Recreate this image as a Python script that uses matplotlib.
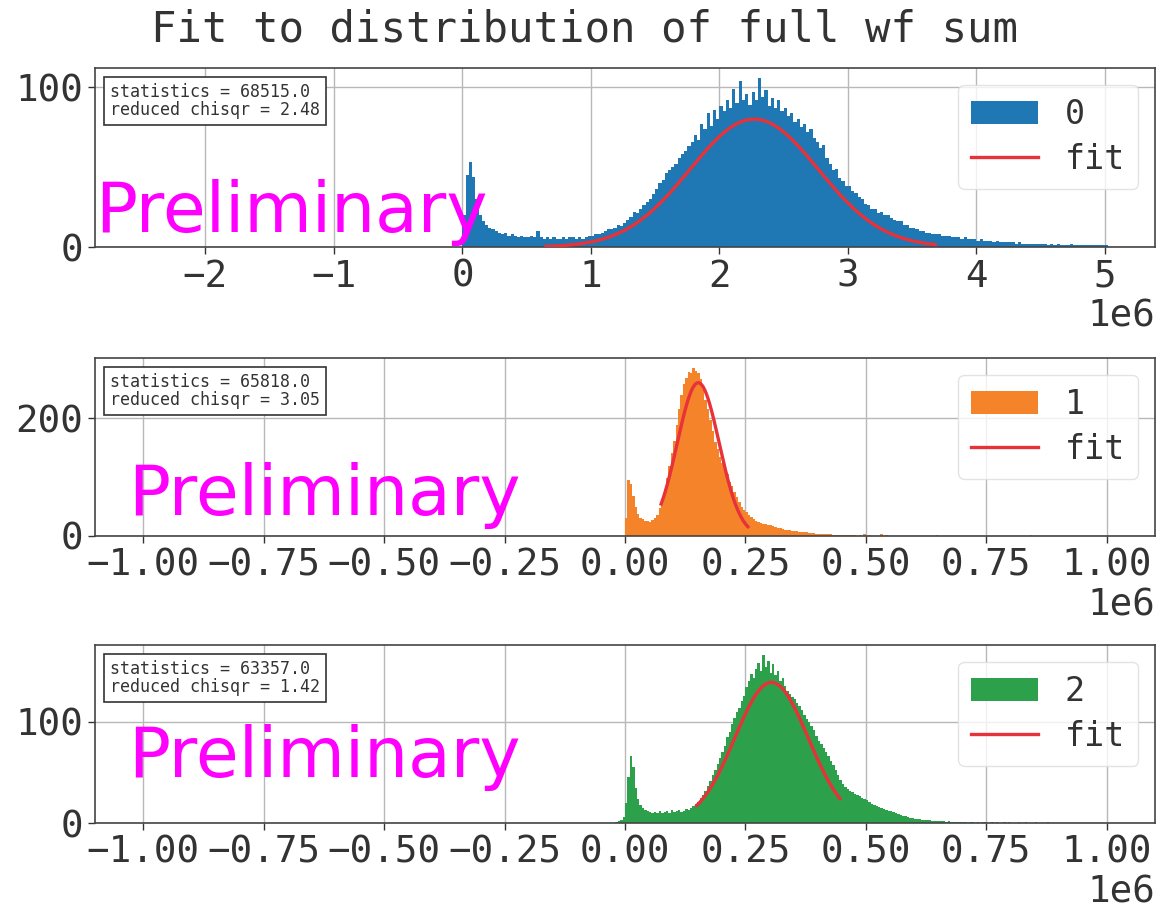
import numpy as np
import matplotlib
matplotlib.use("Agg")
import matplotlib.pyplot as plt

# ---------------- data ----------------
title = "Fit to distribution of full wf sum"
labels = ["0", "1", "2"]
stats = [68515.0, 65818.0, 63357.0]
chisqr = [2.48, 3.05, 1.42]

# panel 0 : bins of 0.025e6 starting at 0
p0_start, p0_width = 0.0, 0.025e6
p0_counts = [20, 45, 53, 44, 30, 20, 16, 14, 12, 11,
             10, 9, 8, 9, 7, 8, 7, 6, 7, 6,
             6, 7, 6, 10, 6, 5, 6, 5, 6, 5,
             5, 6, 5, 6, 6, 5, 6, 5, 6, 7,
             7, 8, 8, 9, 10, 11, 11, 12, 14, 13,
             15, 17, 19, 22, 21, 24, 26, 28, 30, 33,
             36, 40, 42, 46, 48, 50, 52, 56, 58, 60,
             63, 66, 70, 67, 77, 74, 84, 76, 86, 80,
             88, 85, 92, 87, 99, 90, 104, 92, 96, 89,
             97, 92, 106, 94, 98, 88, 93, 87, 92, 85,
             87, 82, 84, 78, 80, 75, 77, 72, 74, 68,
             66, 62, 64, 56, 52, 48, 49, 43, 41, 38,
             38, 35, 34, 31, 30, 27, 26, 24, 24, 21,
             22, 20, 20, 18, 17, 16, 16, 14, 14, 12,
             12, 11, 10, 10, 9, 9, 8, 8, 8, 7,
             7, 7, 6, 6, 6, 5, 6, 5, 5, 5,
             4, 5, 4, 4, 4, 3, 4, 3, 3, 3,
             3, 3, 2, 3, 2, 2, 2, 2, 2, 2,
             2, 2, 1, 2, 1, 2, 1, 1, 1, 2,
             1, 1, 1, 1, 1, 1, 1, 1, 1, 1,
             1]
p0_tail_pos, p0_tail_w = [], []

# panel 1 : bins of 0.005e6 starting at 0
p1_start, p1_width = 0.0, 0.005e6
p1_counts = [31, 95, 88, 68, 50, 38, 31, 28, 26, 25,
             24, 27, 30, 36, 48, 62, 80, 98, 118, 140,
             162, 188, 215, 240, 258, 268, 279, 276, 285, 280,
             277, 266, 250, 230, 215, 196, 178, 160, 148, 134,
             124, 118, 106, 92, 84, 74, 66, 58, 50, 44,
             40, 36, 32, 29, 26, 24, 22, 21, 20, 19,
             18, 17, 15, 14, 13, 12, 11, 10, 10, 9,
             8, 8, 7, 7, 6, 6, 5, 5, 5, 4,
             4, 4, 3, 3, 3, 3, 2, 2, 2, 2,
             2, 1, 1, 1, 1, 1, 0, 1]
p1_tail_pos = [0.495e6, 0.505e6, 0.530e6, 0.540e6, 0.645e6, 0.840e6]
p1_tail_w = [3, 2, 3, 2, 2, 2]

# panel 2 : bins of 0.005e6 starting at -0.02e6
p2_start, p2_width = -0.02e6, 0.005e6
p2_counts = [1, 2, 3, 6, 20, 45, 66, 55, 35, 24,
             18, 15, 13, 12, 11, 10, 11, 10, 12, 10,
             11, 12, 10, 13, 11, 12, 13, 11, 12, 14,
             13, 15, 17, 19, 21, 25, 28, 32, 37, 42,
             47, 52, 58, 64, 70, 76, 85, 90, 98, 104,
             110, 114, 121, 126, 134, 140, 147, 143, 152, 158,
             150, 166, 154, 160, 148, 157, 146, 150, 140, 143,
             135, 131, 128, 125, 123, 119, 116, 112, 107, 103,
             100, 96, 92, 86, 81, 78, 74, 70, 66, 61,
             57, 52, 47, 43, 39, 36, 34, 32, 31, 29,
             28, 27, 25, 24, 23, 21, 19, 18, 17, 16,
             15, 14, 13, 12, 12, 11, 10, 9, 8, 7,
             7, 6, 5, 5, 4, 4, 4, 3, 3, 3,
             3, 2, 2, 2, 2, 2, 2, 1, 2, 1,
             1, 1, 1, 1, 1,
             1, 0, 1, 1, 0, 1, 0, 1, 1, 0,
             0, 1, 0, 1, 0, 0, 1, 0, 1, 0,
             0, 0, 1, 0, 0, 1, 0, 0, 0, 1,
             0, 0, 0, 0, 1, 0]
p2_tail_pos, p2_tail_w = [], []

# gaussian fit parameters: amplitude, mean, sigma, fit range
fit_amp = [80.0, 260.0, 139.0]
fit_mu = [2.27e6, 0.152e6, 0.304e6]
fit_sigma = [0.50e6, 0.0435e6, 0.076e6]
fit_lo = [0.65e6, 0.075e6, 0.149e6]
fit_hi = [3.68e6, 0.255e6, 0.446e6]

xlims = [(-2.86e6, 5.39e6), (-1.10e6, 1.10e6), (-1.10e6, 1.10e6)]
ylims = [(0, 112), (0, 302), (0, 176)]
yticks = [[0, 100], [0, 200], [0, 100]]
xticks = [np.arange(-2, 6) * 1e6, np.arange(-4, 5) * 0.25e6, np.arange(-4, 5) * 0.25e6]

colors = ["#1f77b4", "#f5832a", "#2ca04a"]
fit_color = "#e8323a"

panels = [
    (p0_start, p0_width, p0_counts, p0_tail_pos, p0_tail_w),
    (p1_start, p1_width, p1_counts, p1_tail_pos, p1_tail_w),
    (p2_start, p2_width, p2_counts, p2_tail_pos, p2_tail_w),
]

# ---------------- figure ----------------
W, H = 1169, 911
fig = plt.figure(figsize=(W / 100, H / 100), dpi=100)
mono = "DejaVu Sans Mono"

axes_px = [(95, 68, 1155, 247), (95, 358, 1155, 536), (95, 645, 1155, 823)]
prelim_pos = [(0.0, 0.084), (0.031, 0.118), (0.031, 0.258)]

for i, (start, width, counts, tpos, tw) in enumerate(panels):
    l, t, r, b = axes_px[i]
    ax = fig.add_axes([l / W, 1 - b / H, (r - l) / W, (b - t) / H])

    nb = len(counts)
    if tpos:
        nb = max(nb, int(np.ceil((max(tpos) - start) / width)) + 1)
    w = np.zeros(nb)
    w[:len(counts)] = counts
    for p, v in zip(tpos, tw):
        w[int((p - start) // width)] += v
    edges = start + width * np.arange(nb + 1)
    centers = 0.5 * (edges[:-1] + edges[1:])
    ax.hist(centers, bins=edges, weights=w, histtype="stepfilled",
            color=colors[i], label=labels[i], zorder=2, linewidth=0)

    xf = np.linspace(fit_lo[i], fit_hi[i], 300)
    yf = fit_amp[i] * np.exp(-0.5 * ((xf - fit_mu[i]) / fit_sigma[i]) ** 2)
    ax.plot(xf, yf, color=fit_color, lw=2.4, label="fit", zorder=3)

    ax.set_xlim(*xlims[i])
    ax.set_ylim(*ylims[i])
    ax.set_xticks(xticks[i])
    ax.set_yticks(yticks[i])
    ax.grid(True, color="#b8b8b8", lw=1.0, zorder=0)
    ax.set_axisbelow(True)
    for s in ax.spines.values():
        s.set_color("#444444")
        s.set_linewidth(1.2)
    ax.tick_params(axis="both", labelsize=27, colors="#333333", length=5,
                   width=1.0, labelcolor="#333333")
    for lab in ax.get_xticklabels() + ax.get_yticklabels():
        lab.set_fontfamily(mono)
    ax.xaxis.get_offset_text().set_fontfamily(mono)
    ax.xaxis.get_offset_text().set_fontsize(27)
    ax.xaxis.get_offset_text().set_color("#333333")

    leg = ax.legend(loc="upper right", prop={"family": mono, "size": 24},
                    framealpha=0.8, handlelength=2.0, labelspacing=0.35)
    leg.get_frame().set_edgecolor("#dddddd")
    for txt in leg.get_texts():
        txt.set_color("#333333")

    ax.text(0.014, 0.915,
            f"statistics = {stats[i]:.1f}\nreduced chisqr = {chisqr[i]:.2f}",
            transform=ax.transAxes, ha="left", va="top", family=mono,
            fontsize=12, color="#333333", linespacing=1.0, zorder=6,
            bbox=dict(boxstyle="square,pad=0.35", fc="white", ec="#333333", lw=1.2))

    ax.text(prelim_pos[i][0], prelim_pos[i][1], "Preliminary",
            transform=ax.transAxes, ha="left", va="baseline",
            fontsize=50, color="#ff00ff", family="DejaVu Sans", zorder=7)

fig.text(0.5, 1 - 30 / H, title, ha="center", va="center", family=mono,
         fontsize=30.5, color="#333333")

fig.savefig("out.png", dpi=100)
